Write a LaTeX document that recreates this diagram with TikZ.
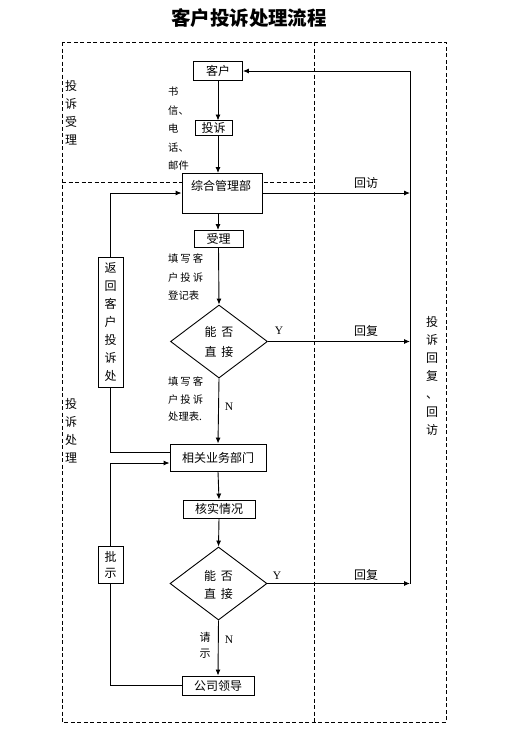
\documentclass[tikz,border=0pt]{standalone}
\usepackage{fontspec}
\setmainfont{Noto Sans CJK SC}
\newfontfamily\lat{Liberation Serif}
\usetikzlibrary{arrows.meta,shapes.geometric}
\tikzset{
  box/.style={draw,fill=white,line width=0.9pt,inner sep=0pt,font=\fontsize{12}{14}\selectfont},
  dia/.style={draw,fill=white,line width=0.9pt,diamond,inner sep=0pt,minimum width=97pt,minimum height=73pt,aspect=1.33},
  conn/.style={line width=0.9pt},
  arr/.style={line width=0.9pt,-{Latex[length=6pt,width=5pt]}},
  frame/.style={line width=0.8pt,dash pattern=on 4pt off 2.5pt},
  small/.style={font=\fontsize{10.3}{18.5}\selectfont,align=left,inner sep=0pt},
  side/.style={font=\fontsize{12}{18}\selectfont,align=center,inner sep=0pt},
  lbl/.style={font=\fontsize{12}{14}\selectfont,inner sep=0pt},
  yn/.style={font=\lat\fontsize{11.5}{13}\selectfont,inner sep=0pt}
}
\begin{document}
\begin{tikzpicture}[x=1pt,y=-1pt]
\useasboundingbox (0,0) rectangle (508,740);
% title
\node[font=\bfseries\fontsize{19.5}{21}\selectfont] (title) at (249,18) {客户投诉处理流程};
% frame
\draw[frame] (62,42) rectangle (446,722);
\draw[frame] (314,42) -- (314,722);
\draw[frame] (62,182) -- (314,182);
% boxes
\node[box,minimum width=49pt,minimum height=19pt] (kehu) at (218,71) {客户};
\node[box,minimum width=37pt,minimum height=15pt] (tousu) at (213.5,128) {投诉};
\node[box,minimum width=80pt,minimum height=40pt] (zonghe) at (222,193) {};
\node[lbl] (zhtext) at (221,186) {综合管理部};
\node[box,minimum width=49pt,minimum height=17pt] (shouli) at (218.5,238.5) {受理};
\node[dia] (d1) at (219,341.5) {};
\node[lbl,align=center,font=\fontsize{12}{20}\selectfont] (d1t) at (219,342) {能\hspace{5pt}否\\直\hspace{5pt}接};
\node[box,minimum width=96pt,minimum height=27pt] (xg) at (218,457.5) {相关业务部门};
\node[box,minimum width=72pt,minimum height=18pt] (hs) at (219,509) {核实情况};
\node[dia] (d2) at (218.5,583.5) {};
\node[lbl,align=center,font=\fontsize{12}{18}\selectfont] (d2t) at (218.5,584.5) {能\hspace{5pt}否\\直\hspace{5pt}接};
\node[box,minimum width=72pt,minimum height=19pt] (gs) at (218,685.5) {公司领导};
\node[box,minimum width=25pt,minimum height=130pt,font=\fontsize{12}{18}\selectfont,align=center] (fh) at (110.5,322) {返\\回\\客\\户\\投\\诉\\处};
\node[box,minimum width=25pt,minimum height=37pt,font=\fontsize{12}{16}\selectfont,align=center] (ps) at (110.5,564.5) {批\\示};
% right collector
\coordinate (rtop) at (410,71);
\coordinate (r1) at (410,193);
\coordinate (r2) at (410,341.5);
\coordinate (r3) at (410,583.5);
% main flow
\draw[arr] (218,80.5) -- (218,120.5);
\draw[arr] (218,135.5) -- (218,173);
\draw[arr] (218,213) -- (218,230);
\draw[arr] (shouli.south) -- (d1.north);
\draw[arr] (d1.south) -- (xg.north);
\draw[arr] (xg.south) -- (hs.north);
\draw[arr] (hs.south) -- (d2.north);
\draw[arr] (d2.south) -- (gs.north);
% yes branches
\draw[arr] (zonghe.east) -- (r1);
\draw[arr] (d1.east) -- (r2);
\draw[arr] (d2.east) -- (r3);
\draw[arr] (r3) -- (rtop) -- (kehu.east);
% return loops
\draw[conn] (xg.west |- 0,452) -- (fh.south |- 0,452) -- (fh.south);
\draw[arr] (fh.north) -- (fh.north |- zonghe.west) -- (zonghe.west);
\draw[conn] (gs.west) -- (ps.south |- gs.west) -- (ps.south);
\draw[arr] (ps.north) -- (ps.north |- 0,463) -- (xg.west |- 0,463);
% labels
\node[small,anchor=north west] (l1) at (168,87) {书\\信、\\电\\话、\\邮件};
\node[small,anchor=north west] (l2) at (168,254) {填\hspace{2pt}写\hspace{2pt}客\\户\hspace{2pt}投\hspace{2pt}诉\\登记表};
\node[small,anchor=north west,font=\fontsize{10.3}{17.5}\selectfont] (l3) at (168,377) {填\hspace{2pt}写\hspace{2pt}客\\户\hspace{2pt}投\hspace{2pt}诉\\处理表.};
\node[side] (s1) at (71,113) {投\\诉\\受\\理};
\node[side] (s2) at (71,431) {投\\诉\\处\\理};
\node[side] (s3) at (432,376) {投\\诉\\回\\复\\、\\回\\访};
\node[lbl] (hf0) at (366,183) {回访};
\node[lbl] (hf1) at (366,331) {回复};
\node[lbl] (hf2) at (366,575) {回复};
\node[yn] (y1) at (279,331) {Y};
\node[yn] (y2) at (277,576) {Y};
\node[yn] (n1) at (229,407) {N};
\node[yn] (n2) at (229,640) {N};
\node[side,font=\fontsize{11}{16}\selectfont] (qs) at (205,645) {请\\示};
\end{tikzpicture}
\end{document}
